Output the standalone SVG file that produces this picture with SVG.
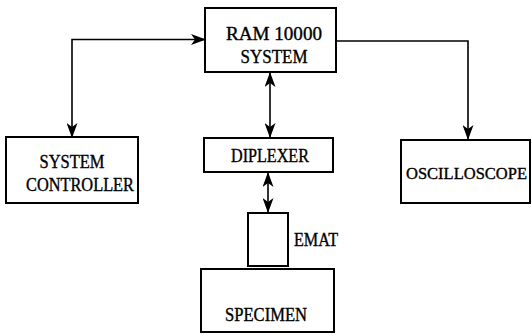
<svg xmlns="http://www.w3.org/2000/svg" width="532" height="335" viewBox="0 0 532 335">
<style>
.box{fill:#fff;stroke:#000;stroke-width:2}
.ln{fill:none;stroke:#000;stroke-width:1.6}
text{font-family:"Liberation Serif","Times New Roman",serif;font-size:18px;fill:#000;stroke:#000;stroke-width:0.35}
.c{text-anchor:middle}
</style>
<defs>
<marker id="ah" viewBox="0 0 15 11" refX="14" refY="5.5" markerWidth="15" markerHeight="11" markerUnits="userSpaceOnUse" orient="auto-start-reverse">
<path d="M0,0 L15,5.5 L0,11 L4,5.5 z" fill="#000"/>
</marker>
</defs>
<g id="connectors">
<path class="ln" d="M205,39.5 H72 V137" marker-start="url(#ah)" marker-end="url(#ah)"/>
<path class="ln" d="M336,41 H468 V139" marker-end="url(#ah)"/>
<path class="ln" d="M270,73 V137" marker-start="url(#ah)" marker-end="url(#ah)"/>
<path class="ln" d="M268,173 V212" marker-start="url(#ah)" marker-end="url(#ah)"/>
</g>
<g id="ram">
<rect class="box" x="205" y="8" width="131" height="64"/>
<text class="c" x="274" y="40" textLength="96" lengthAdjust="spacingAndGlyphs">RAM 10000</text>
<text class="c" x="274" y="63" textLength="67" lengthAdjust="spacingAndGlyphs">SYSTEM</text>
</g>
<g id="controller">
<rect class="box" x="6" y="137" width="132" height="66"/>
<text class="c" x="72" y="168" textLength="65" lengthAdjust="spacingAndGlyphs">SYSTEM</text>
<text class="c" x="80" y="191" textLength="108" lengthAdjust="spacingAndGlyphs">CONTROLLER</text>
</g>
<g id="diplexer">
<rect class="box" x="204" y="138" width="129" height="34"/>
<text class="c" x="270" y="162" textLength="78" lengthAdjust="spacingAndGlyphs">DIPLEXER</text>
</g>
<g id="oscilloscope">
<rect class="box" x="401" y="140" width="129" height="63"/>
<text x="406" y="179" style="font-size:16.5px">OSCILLOSCOPE</text>
</g>
<g id="emat">
<rect class="box" x="248" y="213" width="40" height="53"/>
<text x="294" y="246" textLength="44" lengthAdjust="spacingAndGlyphs">EMAT</text>
</g>
<g id="specimen">
<rect class="box" x="201" y="269" width="133" height="63"/>
<text class="c" x="266" y="321" textLength="82" lengthAdjust="spacingAndGlyphs">SPECIMEN</text>
</g>
</svg>
